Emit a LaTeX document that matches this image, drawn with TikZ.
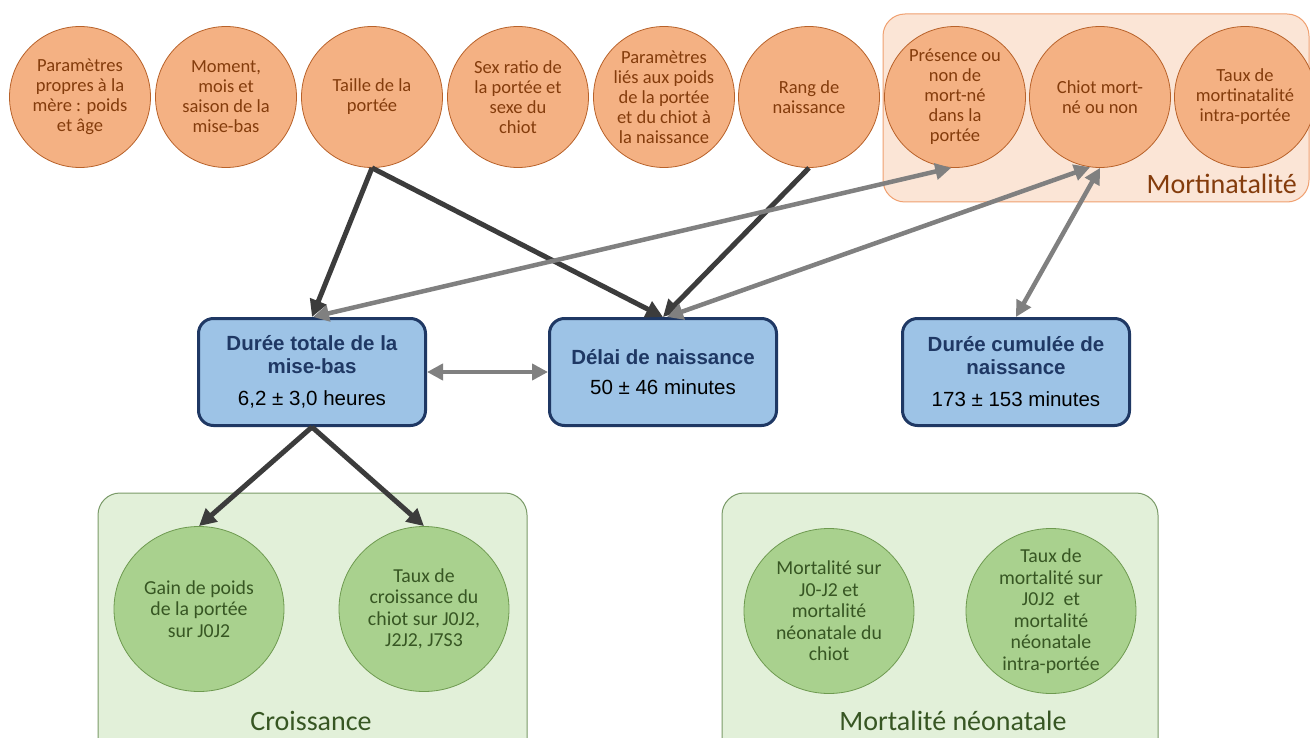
\documentclass[tikz,border=0pt]{standalone}
\usepackage{fontspec}
\setmainfont{Carlito}
\newfontfamily\arialf{Liberation Sans}
\usetikzlibrary{arrows.meta,shapes.geometric}
\definecolor{orfill}{HTML}{F4B183}
\definecolor{ordraw}{HTML}{B8622A}
\definecolor{ortext}{HTML}{843C0C}
\definecolor{orbg}{HTML}{FBE5D6}
\definecolor{orbgdraw}{HTML}{F0A070}
\definecolor{grfill}{HTML}{A9D18E}
\definecolor{grdraw}{HTML}{6E9A50}
\definecolor{grtext}{HTML}{375623}
\definecolor{grbg}{HTML}{E2F0D9}
\definecolor{grbgdraw}{HTML}{7A9A68}
\definecolor{blfill}{HTML}{9DC3E6}
\definecolor{bldraw}{HTML}{1F3864}
\definecolor{darkarrow}{HTML}{3C3C3C}
\definecolor{grayarrow}{HTML}{808080}
\newcommand\bluetitle[1]{\textcolor{bldraw}{\textbf{#1}}}
\tikzset{
  orcirc/.style={circle, fill=orfill, draw=ordraw, line width=0.8pt, minimum size=141pt, inner sep=0pt},
  ortxt/.style={align=center, text=ortext, font=\fontsize{18.5}{20}\selectfont, inner sep=0pt},
  grcirc/.style={ellipse, fill=grfill, draw=grdraw, line width=0.8pt, minimum width=170pt, minimum height=165pt, inner sep=0pt},
  grtxt/.style={align=center, text=grtext, font=\fontsize{19.8}{21.5}\selectfont, inner sep=0pt},
  groupbox/.style={rectangle, rounded corners=22pt, line width=1pt, inner sep=0pt},
  glabel/.style={font=\fontsize{28}{32}\selectfont, inner sep=0pt},
  bluebox/.style={rectangle, rounded corners=15pt, fill=blfill, draw=bldraw, line width=3pt, minimum width=227pt, minimum height=107pt, align=center, inner sep=0pt, font=\arialf\fontsize{20.5}{22.5}\selectfont},
  darr/.style={draw=darkarrow, line width=5pt, -{Triangle[length=17pt,width=17pt]}},
  garr/.style={draw=grayarrow, line width=4.5pt, {Triangle[length=16pt,width=16pt]}-{Triangle[length=16pt,width=16pt]}}
}
\begin{document}
\begin{tikzpicture}[x=1pt,y=-1pt]
\useasboundingbox (0,0) rectangle (1310,738);
\clip (0,0) rectangle (1310,738);
\fill[white] (0,0) rectangle (1310,738);
% group boxes
\node[groupbox, fill=orbg, draw=orbgdraw, minimum width=426pt, minimum height=188pt] (mortbox) at (1096,108) {};
\node[groupbox, fill=grbg, draw=grbgdraw, minimum width=429pt, minimum height=290pt] (croibox) at (312.5,638) {};
\node[groupbox, fill=grbg, draw=grbgdraw, minimum width=436pt, minimum height=290pt] (mortnbox) at (940,638) {};
\node[glabel, text=ortext, anchor=east] (mortlabel) at (1297,184) {Mortinatalité};
\node[glabel, text=grtext] (croilabel) at (311,721) {Croissance};
\node[glabel, text=grtext] (mortnlabel) at (953,721) {Mortalité néonatale};
% orange circles
\node[orcirc, label={[ortxt]center:{Paramètres\\propres à la\\mère : poids\\et âge}}] (c1) at (80,97) {};
\node[orcirc, label={[ortxt]center:{Moment,\\mois et\\saison de la\\mise-bas}}] (c2) at (226,97) {};
\node[orcirc, label={[ortxt]center:{Taille de la\\portée}}] (c3) at (372,97) {};
\node[orcirc, label={[ortxt]center:{Sex ratio de\\la portée et\\sexe du\\chiot}}] (c4) at (518,97) {};
\node[orcirc, label={[ortxt]center:{Paramètres\\liés aux poids\\de la portée\\et du chiot à\\la naissance}}] (c5) at (664,97) {};
\node[orcirc, label={[ortxt]center:{Rang de\\naissance}}] (c6) at (809,97) {};
\node[orcirc, label={[ortxt]center:{Présence ou\\non de\\mort-né\\dans la\\portée}}] (c7) at (955,97) {};
\node[orcirc, label={[ortxt]center:{Chiot mort-\\né ou non}}] (c8) at (1100,97) {};
\node[orcirc, label={[ortxt]center:{Taux de\\mortinatalité\\intra-portée}}] (c9) at (1245,97) {};
% green circles
\node[grcirc, label={[grtxt]center:{Gain de poids\\de la portée\\sur J0J2}}] (g1) at (199,609) {};
\node[grcirc, label={[grtxt]center:{Taux de\\croissance du\\chiot sur J0J2,\\J2J2, J7S3}}] (g2) at (424,609) {};
\node[grcirc, label={[grtxt]center:{Mortalité sur\\J0-J2 et\\mortalité\\néonatale du\\chiot}}] (g3) at (829,611) {};
\node[grcirc, label={[grtxt]center:{Taux de\\mortalité sur\\J0J2\ \ et\\mortalité\\néonatale\\intra-portée}}] (g4) at (1051,611) {};
% blue boxes
\node[bluebox] (dt) at (312,372) {\bluetitle{Durée totale de la}\\\bluetitle{mise-bas}\\[10pt]6,2 ± 3,0 heures};
\node[bluebox] (dl) at (663,372) {\bluetitle{Délai de naissance}\\[8pt]50 ± 46 minutes};
\node[bluebox] (dc) at (1016,372) {\bluetitle{Durée cumulée de}\\\bluetitle{naissance}\\[10pt]173 ± 153 minutes};
% dark arrows
\draw[darr] (c3.south) -- (dt.north);
\draw[darr] (c3.south) -- (dl.north);
\draw[darr] (c6.south) -- (dl.north);
\draw[darr] (dt.south) -- (g1.north);
\draw[darr] (dt.south) -- (g2.north);
% gray double arrows
\draw[garr] ([xshift=1pt]dt.north) -- (c7.-93);
\draw[garr] ([xshift=4pt]dl.north) -- (c8.-98);
\draw[garr] (dc.north) -- (c8.south);
\draw[garr] (dt.east) -- (dl.west);
\end{tikzpicture}
\end{document}
